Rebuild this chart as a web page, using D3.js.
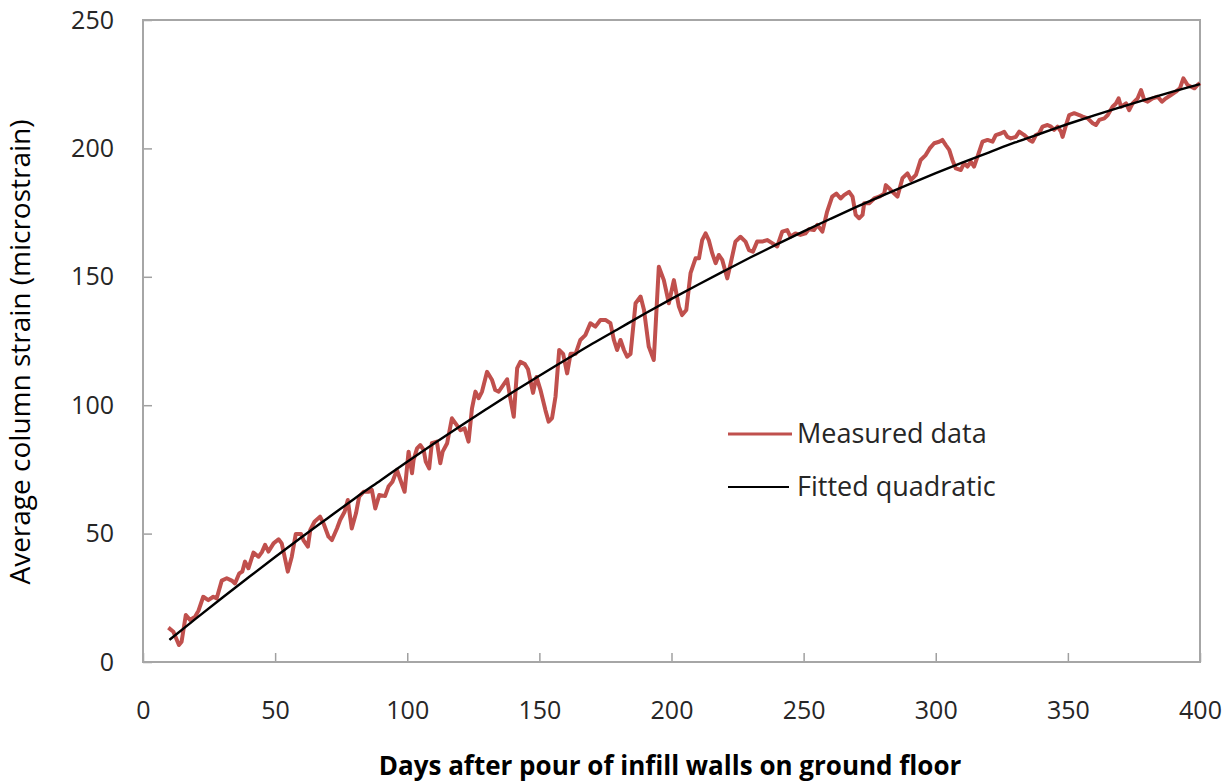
<!DOCTYPE html>
<html>
<head>
<meta charset="utf-8">
<script src="https://cdn.jsdelivr.net/npm/d3@7"></script>
<style>
  body { margin: 0; background: #fff; }
  text { font-family: "Open Sans", sans-serif; }
</style>
</head>
<body>
<script>
var w = 1231;
var h = 783;
var margin = { top: 20, right: 31, bottom: 121, left: 143 };

var measDays = [9.6, 11.5, 13.6, 14.6, 16.2, 17.8, 19.7, 21, 22.8, 24.7, 26.6, 27.9, 29.8, 31.7, 33.6, 34.8,
  36.4, 37.6, 38.6, 39.9, 41.8, 43.7, 45, 46.2, 47.5, 49.4, 51.3, 52.5, 54.8, 56.3, 57.8, 59.8, 60.7, 62.4,
  63.3, 64.9, 67, 68.3, 70.2, 71.5, 73.4, 74.6, 76.3, 77.5, 79, 80.6, 81.8, 83.5, 85.4, 86.6, 87.9, 89.4,
  91.6, 92.9, 94.4, 96.1, 97.4, 99, 100.5, 101.8, 102.4, 103.7, 104.9, 106.2, 107, 108.3, 109.3, 111.2,
  112.5, 113.4, 115.1, 116.9, 118.2, 120.1, 121.7, 123.2, 124.5, 125.8, 127, 128.3, 130.2, 132.1, 133.3,
  134.6, 135.9, 137.8, 139, 140.3, 141.6, 142.8, 144.5, 145.7, 147.6, 148.9, 150.4, 152.3, 153.5, 154.8,
  156.1, 157.5, 159, 160.5, 161.8, 163.7, 165.5, 167.4, 169.3, 171.2, 173.1, 175, 176.9, 178.2, 179.4,
  180.7, 182, 183.2, 184.5, 186.4, 188.3, 189.6, 191.4, 193.3, 195.2, 197.1, 199, 200.9, 202.8, 204,
  205.6, 207.2, 209.1, 210.4, 211.6, 212.9, 214.1, 215.4, 216.7, 217.9, 219.2, 221.1, 222.4, 224.2, 226.1,
  228, 229.3, 230.8, 232.4, 234.3, 236.2, 238.1, 240, 241.9, 243.8, 245, 246.9, 248.8, 250.7, 252, 253.9,
  255.2, 257.1, 258.9, 260.8, 262.4, 264, 265.3, 267.2, 268.5, 269.7, 271, 272.3, 272.9, 274.8, 276.7,
  278.6, 280.5, 281.1, 282.4, 283.6, 285.5, 287.4, 289.3, 290.6, 292.5, 294.3, 296.2, 297.7, 299.4, 301.3,
  302.5, 303.8, 305.1, 306.3, 307.6, 309.5, 310.7, 312, 313.3, 314.5, 315.8, 317.7, 319.6, 321.5, 322.7,
  324.6, 325.9, 327.1, 328.4, 330.3, 331.6, 333.5, 335.4, 336.6, 337.9, 339.1, 340.4, 342.3, 343.6, 344.8,
  346.1, 347.4, 348, 349.3, 350.5, 352.4, 354.3, 355.6, 357.5, 359.4, 360.6, 361.9, 363.8, 365.1, 366.9,
  368.2, 369.2, 370.1, 372, 373.2, 374.5, 376.4, 377.7, 378.9, 380.2, 382.1, 384, 385.6, 387.1, 389, 390.9,
  392.4, 393.7, 395.3, 396.6, 397.9, 399.1, 400];
var measVals = [13.4, 11.8, 6.6, 7.9, 18.3, 16.4, 17.6, 20, 25.4, 24.1, 25.4, 24.8, 31.7, 32.6, 31.7, 30.6,
  34.5, 35.2, 39.1, 36.5, 42.6, 41, 42.8, 45.6, 43, 46.2, 47.8, 46.2, 35.2, 41, 49.8, 49.8, 47.5, 44.9,
  51.4, 54.6, 56.6, 54, 48.8, 47.5, 52, 55.3, 58.5, 63.1, 52, 57.9, 64.4, 66.3, 66.3, 67, 59.8, 65,
  64.6, 68.3, 70.2, 74.8, 70.9, 66.3, 81.9, 73.5, 78.7, 83.2, 84.5, 82.6, 78, 75.4, 85.2, 85.8,
  77.4, 81.9, 85.2, 94.9, 93, 90.3, 91, 85.8, 98.8, 105.3, 102.7, 105.3, 113, 109.8, 105.9,
  105.3, 107.2, 110.1, 102.7, 95.5, 114.4, 116.9, 116, 114, 104.8, 111, 106, 98, 93.6, 95,
  103.3, 121.5, 120, 112.4, 120, 120, 125.4, 127.3, 131.9, 130.6, 133.2, 133.2, 131.9, 125.4, 121.5,
  125.4, 121.5, 118.9, 120, 139.7, 142.3, 137.1, 122.8, 117.6, 153.9, 148.7, 139.7, 148.7, 138.4, 135.1,
  137.1, 151.4, 157.2, 157.2, 164.3, 166.9, 164.3, 159.2, 155.3, 158.5, 156.6, 149.4, 155.3, 163.7, 165.6,
  163.7, 160.4, 159.8, 163.7, 163.7, 164.3, 163.1, 161.8, 167.6, 168.2, 165.6, 166.9, 166.3, 166.9, 168.5, 168.2,
  170.2, 167.6, 175.4, 181.2, 182.4, 180.5, 181.8, 183.1, 181.2, 174.1, 172.8, 174.1, 178.6, 178.6, 180.5,
  181.2, 182.4, 185.7, 184.4, 183.1, 181.2, 188.4, 190.3, 187.7, 189.7, 195.5, 197.4, 200, 202, 202.6,
  203.3, 201.3, 199.4, 195.5, 192.2, 191.6, 194.2, 192.9, 194.8, 192.9, 196.8, 202.6, 203.3, 202.6, 205.2,
  205.8, 206.5, 204.5, 203.9, 204.5, 206.5, 205.2, 203.3, 202.6, 205.2, 205.8, 208.5, 209.1, 208.5, 207.2,
  208.5, 206.5, 204.5, 209.1, 213, 213.7, 213, 212.4, 211.7, 209.8, 209.1, 211.1, 211.7, 213, 216.2,
  217.5, 219.5, 216.2, 217.5, 214.9, 217.5, 219.5, 222.7, 218.8, 218.2, 219.5, 220.1, 218.2, 219.5, 220.8, 222.1,
  223.4, 227.3, 224.7, 224, 223.4, 224.7, 225.4];

// fitted quadratic, read every 10 days
var fitDays = [10, 20, 30, 40, 50, 60, 70, 80, 90, 100, 110, 120, 130, 140, 150, 160, 170, 180, 190, 200,
  210, 220, 230, 240, 250, 260, 270, 280, 290, 300, 310, 320, 330, 340, 350, 360, 370, 380, 390, 400];
var fitVals = [8.6, 16.9, 25.0, 33.0, 40.9, 48.6, 56.1, 63.6, 70.8, 78.0, 85.0, 91.8, 98.5, 105.1, 111.5,
  117.7, 123.9, 129.8, 135.7, 141.4, 146.9, 152.3, 157.6, 162.7, 167.7, 172.5, 177.2, 181.7, 186.1, 190.4,
  194.5, 198.4, 202.3, 205.9, 209.5, 212.9, 216.1, 219.2, 222.2, 225.0];

var xTicks = [0, 50, 100, 150, 200, 250, 300, 350, 400];
var yTicks = [0, 50, 100, 150, 200, 250];
var seriesNames = ["Measured data", "Fitted quadratic"];
var seriesColors = ["#c0504d", "#000000"];

var xTitle = "Days after pour of infill walls on ground floor";
var yTitle = "Average column strain (microstrain)";

var iw = w - margin.left - margin.right;
var ih = h - margin.top - margin.bottom;

var svg = d3.select("body")
      .append("svg")
      .attr("width", w)
      .attr("height", h);

var g = svg.append("g")
      .attr("transform", "translate(" + margin.left + "," + margin.top + ")");

var xScale = d3.scaleLinear().domain([0, 400]).range([0, iw]);
var yScale = d3.scaleLinear().domain([0, 250]).range([ih, 0]);

var xAxis = d3.axisBottom(xScale).tickValues(xTicks).tickSize(-9).tickPadding(39);
var yAxis = d3.axisLeft(yScale).tickValues(yTicks).tickSize(-9).tickPadding(29);

var gx = g.append("g")
    .attr("class", "x axis")
    .attr("transform", "translate(0," + ih + ")")
    .call(xAxis);

var gy = g.append("g")
    .attr("class", "y axis")
    .call(yAxis);

[gx, gy].forEach(function(ax) {
  ax.select(".domain").remove();
  ax.selectAll("line").attr("stroke", "#a0a0a0").attr("stroke-width", 1.5);
  ax.selectAll("text")
    .attr("fill", "#262626")
    .style("font-size", "25px")
    .style("font-family", "'Open Sans', sans-serif");
});

// plot frame
g.append("rect")
  .attr("x", 0)
  .attr("y", 0)
  .attr("width", iw)
  .attr("height", ih)
  .attr("fill", "none")
  .attr("stroke", "#a6a6a6")
  .attr("stroke-width", 2);

var meas = measDays.map(function(d, i) { return [d, measVals[i]]; });
var fit = fitDays.map(function(d, i) { return [d, fitVals[i]]; });

var line = d3.line()
    .x(function(d) { return xScale(d[0]); })
    .y(function(d) { return yScale(d[1]); });

g.append("path")
  .datum(meas)
  .attr("fill", "none")
  .attr("stroke", seriesColors[0])
  .attr("stroke-width", 4)
  .attr("stroke-linejoin", "round")
  .attr("d", line);

g.append("path")
  .datum(fit)
  .attr("fill", "none")
  .attr("stroke", seriesColors[1])
  .attr("stroke-width", 2.4)
  .attr("d", line.curve(d3.curveMonotoneX));

// legend
var legend = svg.append("g").attr("transform", "translate(728,434)");
seriesNames.forEach(function(name, i) {
  var row = legend.append("g").attr("transform", "translate(0," + (i * 53) + ")");
  row.append("line")
    .attr("x1", 0).attr("x2", i == 0 ? 64 : 61)
    .attr("y1", 0).attr("y2", 0)
    .attr("stroke", seriesColors[i])
    .attr("stroke-width", i == 0 ? 3 : 2.2);
  row.append("text")
    .attr("x", 69)
    .attr("y", 9)
    .attr("fill", "#262626")
    .style("font-size", "27px")
    .text(name);
});

// axis titles
svg.append("text")
  .attr("x", 670)
  .attr("y", 775)
  .attr("text-anchor", "middle")
  .attr("fill", "#000")
  .style("font-size", "26px")
  .style("font-weight", "bold")
  .text(xTitle);

svg.append("text")
  .attr("transform", "translate(30,352) rotate(-90)")
  .attr("text-anchor", "middle")
  .attr("fill", "#000")
  .style("font-size", "28px")
  .text(yTitle);
</script>
</body>
</html>
